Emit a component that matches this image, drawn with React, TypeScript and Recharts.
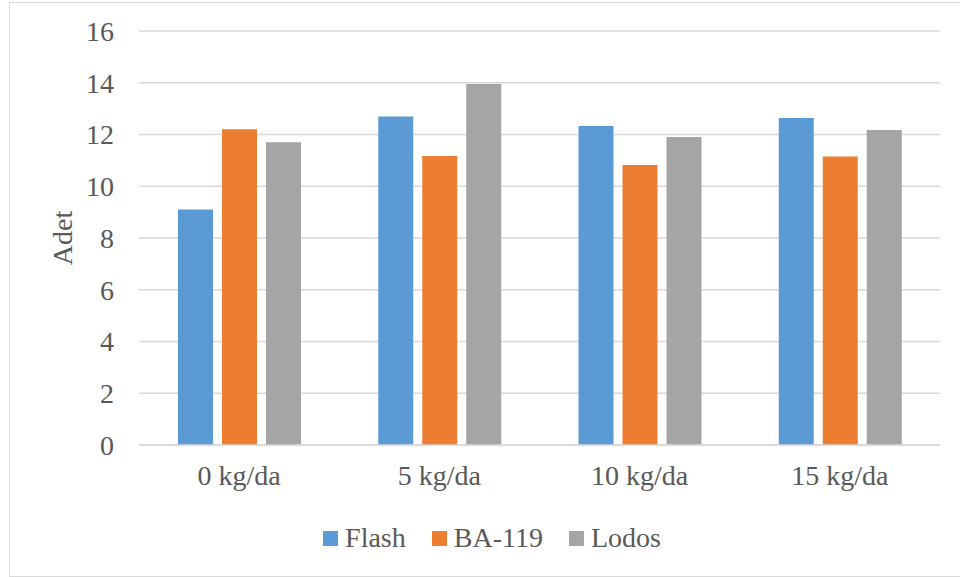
import React from "react";
import { Bar, BarChart, CartesianGrid, XAxis, YAxis } from "recharts";

const categories = ["0 kg/da", "5 kg/da", "10 kg/da", "15 kg/da"];
const flash = [9.1, 12.7, 12.33, 12.64];
const ba119 = [12.2, 11.17, 10.82, 11.15];
const lodos = [11.7, 13.95, 11.9, 12.17];
const yTicks = [0, 2, 4, 6, 8, 10, 12, 14, 16];

const series = [
  { key: "flash", name: "Flash", color: "#5B9BD5" },
  { key: "ba119", name: "BA-119", color: "#ED7D31" },
  { key: "lodos", name: "Lodos", color: "#A5A5A5" },
];

const data = categories.map((label, i) => ({
  label,
  flash: flash[i],
  ba119: ba119[i],
  lodos: lodos[i],
}));

const font = "'Liberation Serif', 'Times New Roman', serif";
const textColor = "#595959";
const gridColor = "#D9D9D9";

function AxisTitle({ viewBox }: { viewBox?: any }) {
  if (!viewBox) return null;
  const x = 62;
  const y = viewBox.y + viewBox.height / 2;
  return (
    <text
      x={x}
      y={y}
      transform={`rotate(-90, ${x}, ${y})`}
      textAnchor="middle"
      dominantBaseline="central"
      fill={textColor}
      fontSize={28}
      fontFamily={font}
    >
      Adet
    </text>
  );
}

export default function App() {
  return (
    <div
      style={{
        position: "absolute",
        left: 0,
        top: 0,
        width: 960,
        height: 577,
        overflow: "hidden",
        background: "#fff",
      }}
    >
      <div
        style={{
          position: "absolute",
          left: 9,
          top: 2,
          width: 980,
          height: 573,
          border: `1px solid ${gridColor}`,
        }}
      />
      <BarChart
        width={960}
        height={577}
        data={data}
        margin={{ top: 31, right: 20, bottom: 102, left: 40 }}
        barSize={35}
        barGap={9}
        barCategoryGap={38}
        style={{ position: "absolute", left: 0, top: 0 }}
      >
        <CartesianGrid stroke={gridColor} strokeWidth={1.3} vertical={false} />
        <XAxis
          dataKey="label"
          height={30}
          axisLine={{ stroke: gridColor, strokeWidth: 1.3 }}
          tickLine={false}
          tickMargin={14}
          tick={{ fill: textColor, fontSize: 28, fontFamily: font }}
        />
        <YAxis
          width={99}
          domain={[0, 16]}
          ticks={yTicks}
          interval={0}
          axisLine={false}
          tickLine={false}
          tickMargin={19}
          tick={{ fill: textColor, fontSize: 28, fontFamily: font }}
          label={<AxisTitle />}
        />
        {series.map((s) => (
          <Bar
            key={s.key}
            dataKey={s.key}
            name={s.name}
            fill={s.color}
            isAnimationActive={false}
          />
        ))}
      </BarChart>
      <div
        style={{
          position: "absolute",
          left: 0,
          width: 960,
          top: 522,
          height: 32,
          display: "flex",
          justifyContent: "center",
          alignItems: "center",
          fontFamily: font,
          fontSize: 28,
          color: textColor,
          paddingLeft: 24,
          boxSizing: "border-box",
        }}
      >
        {series.map((s) => (
          <div
            key={s.key}
            style={{ display: "flex", alignItems: "center", margin: "0 13px" }}
          >
            <span
              style={{
                display: "inline-block",
                width: 15,
                height: 15,
                background: s.color,
                marginRight: 7,
              }}
            />
            <span>{s.name}</span>
          </div>
        ))}
      </div>
    </div>
  );
}
